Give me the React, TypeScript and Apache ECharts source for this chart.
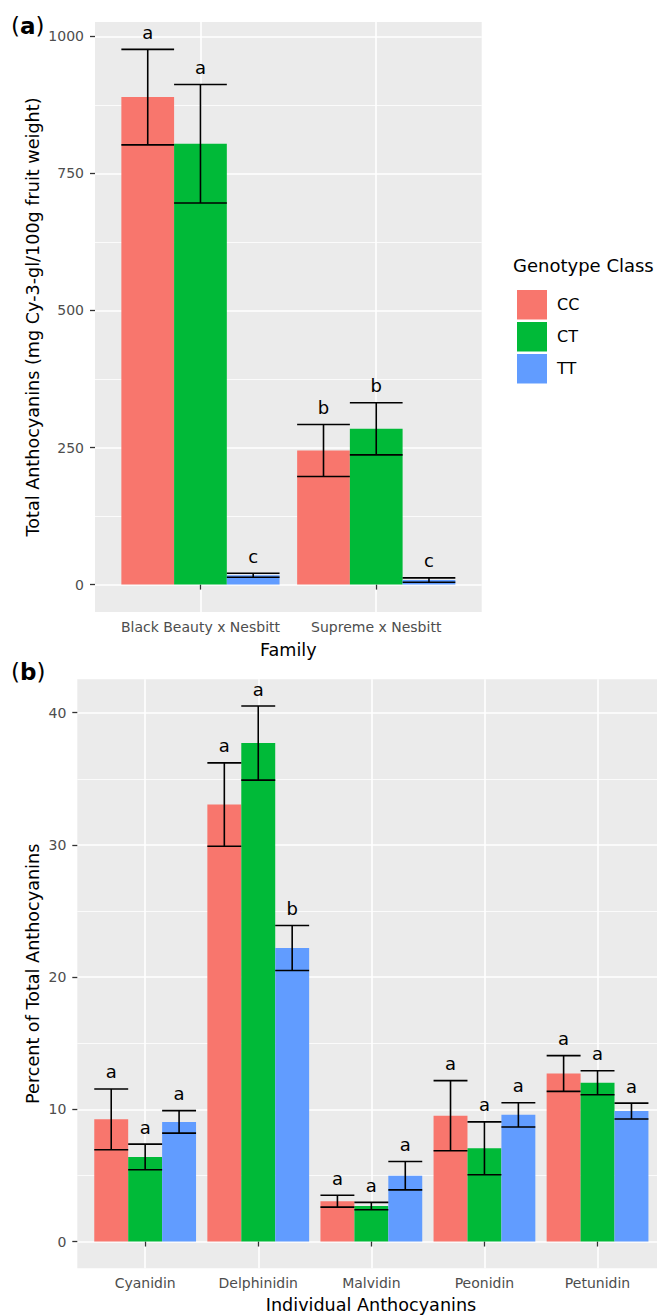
import React, { useEffect, useRef } from "react";
import * as echarts from "echarts";

const FONT = "DejaVu Sans";
const genotypes = ["CC", "CT", "TT"];
const genotypeColors = ["#F8766D", "#00BA38", "#619CFF"];

// Panel (a): total anthocyanins by family
const familyCats = ["Black Beauty x Nesbitt", "Supreme x Nesbitt"];
const totalCC = [889, 244.5];
const totalCT = [804, 284];
const totalTT = [17, 8.2];
const totalErrCC = [87, 47.5];
const totalErrCT = [108, 47.5];
const totalErrTT = [3.7, 4];
const totalLetCC = ["a", "b"];
const totalLetCT = ["a", "b"];
const totalLetTT = ["c", "c"];
const totalTicks = [0, 250, 500, 750, 1000];
const totalMinorTicks = [125, 375, 625, 875];

// Panel (b): percent of total anthocyanins
const anthoCats = ["Cyanidin", "Delphinidin", "Malvidin", "Peonidin", "Petunidin"];
const pctCC = [9.24, 33.05, 3.05, 9.52, 12.71];
const pctCT = [6.4, 37.7, 2.68, 7.05, 12.01];
const pctTT = [9.05, 22.2, 4.98, 9.58, 9.87];
const pctErrCC = [2.3, 3.15, 0.45, 2.65, 1.35];
const pctErrCT = [0.97, 2.8, 0.28, 2.0, 0.91];
const pctErrTT = [0.85, 1.7, 1.07, 0.92, 0.6];
const pctLetCC = ["a", "a", "a", "a", "a"];
const pctLetCT = ["a", "a", "a", "a", "a"];
const pctLetTT = ["a", "b", "a", "a", "a"];
const pctTicks = [0, 10, 20, 30, 40];
const pctMinorTicks = [5, 15, 25, 35];

const TICK_COLOR = "#333333";
const LABEL_COLOR = "#4D4D4D";

function makePanelSeries(
  panel: number,
  means: number[][],
  errs: number[][],
  letters: string[][]
) {
  const out: any[] = [];
  means.forEach((m, k) => {
    out.push({
      type: "bar",
      name: genotypes[k],
      xAxisIndex: panel,
      yAxisIndex: panel * 2,
      barGap: "0%",
      barCategoryGap: "10%",
      itemStyle: { color: genotypeColors[k] },
      data: m.map((v, i) => [i + 1, v]),
      z: 2,
    });
  });
  means.forEach((m, k) => {
    const off = (k - 1) * 0.3;
    const lets = letters[k];
    out.push({
      type: "custom",
      name: "err" + genotypes[k] + panel,
      xAxisIndex: panel,
      yAxisIndex: panel * 2,
      encode: { x: 0, y: [1, 2] },
      clip: false,
      z: 5,
      data: m.map((v, i) => [i + 1, v - errs[k][i], v + errs[k][i]]),
      renderItem: (params: any, api: any) => {
        const x = api.value(0) + off;
        const lo = api.value(1);
        const hi = api.value(2);
        const top = api.coord([x, hi]);
        const bot = api.coord([x, lo]);
        const half = api.size([0.15, 0])[0];
        const ls = { stroke: "#000", lineWidth: 1.6 };
        return {
          type: "group",
          children: [
            { type: "line", shape: { x1: top[0], y1: top[1], x2: bot[0], y2: bot[1] }, style: ls },
            { type: "line", shape: { x1: top[0] - half, y1: top[1], x2: top[0] + half, y2: top[1] }, style: ls },
            { type: "line", shape: { x1: bot[0] - half, y1: bot[1], x2: bot[0] + half, y2: bot[1] }, style: ls },
            {
              type: "text",
              x: top[0],
              y: top[1] - 17,
              style: {
                text: lets[params.dataIndex],
                fontSize: 18,
                fontFamily: FONT,
                fill: "#000",
                align: "center",
                verticalAlign: "middle",
                textAlign: "center",
                textVerticalAlign: "middle",
              },
            },
          ],
        };
      },
    });
  });
  return out;
}

function xAxisFor(gridIndex: number, cats: string[]) {
  const vals = cats.map((_, i) => i + 1);
  return {
    type: "value",
    gridIndex,
    min: 0.4,
    max: cats.length + 0.6,
    axisLine: { show: false },
    axisTick: { show: true, customValues: vals, length: 5, lineStyle: { color: TICK_COLOR, width: 1.3 } },
    axisLabel: {
      show: true,
      customValues: vals,
      formatter: (v: number) => cats[Math.round(v) - 1] ?? "",
      fontSize: 14,
      fontFamily: FONT,
      color: LABEL_COLOR,
      margin: 8,
    },
    splitLine: { show: true, lineStyle: { color: "#FFFFFF", width: 1.6 } },
  };
}

function yAxesFor(gridIndex: number, min: number, max: number, major: number[], minor: number[]) {
  return [
    {
      type: "value",
      gridIndex,
      min,
      max,
      position: "left",
      axisLine: { show: false },
      axisTick: { show: true, customValues: major, length: 5, lineStyle: { color: TICK_COLOR, width: 1.3 } },
      axisLabel: {
        show: true,
        customValues: major,
        formatter: (v: number) => String(v),
        fontSize: 14,
        fontFamily: FONT,
        color: LABEL_COLOR,
        margin: 11,
      },
      splitLine: { show: true, lineStyle: { color: "#FFFFFF", width: 1.6 } },
    },
    {
      type: "value",
      gridIndex,
      min,
      max,
      position: "right",
      axisLine: { show: false },
      axisTick: { show: false, customValues: minor },
      axisLabel: { show: false, customValues: minor },
      splitLine: { show: true, lineStyle: { color: "#FFFFFF", width: 0.8 } },
    },
  ];
}

export default function App() {
  const ref = useRef<HTMLDivElement>(null);
  useEffect(() => {
    if (!ref.current) return;
    const chart = echarts.init(ref.current, undefined, { renderer: "svg" });
    const titleStyle = { fontSize: 17.6, fontFamily: FONT, fill: "#000" };
    const panelRich = {
      p: { fontSize: 23, fontFamily: FONT, fill: "#000" },
      b: { fontSize: 23, fontFamily: FONT, fontWeight: "bold", fill: "#000" },
    };
    const option: any = {
      animation: false,
      backgroundColor: "#FFFFFF",
      grid: [
        {
          left: 95,
          top: 22,
          width: 386.7,
          height: 590,
          show: true,
          backgroundColor: "#EBEBEB",
          borderWidth: 0,
          containLabel: false,
          outerBoundsMode: "none",
        },
        {
          left: 77.3,
          top: 679.3,
          width: 588.1,
          height: 589,
          show: true,
          backgroundColor: "#EBEBEB",
          borderWidth: 0,
          containLabel: false,
          outerBoundsMode: "none",
        },
      ],
      xAxis: [xAxisFor(0, familyCats), xAxisFor(1, anthoCats)],
      yAxis: [
        ...yAxesFor(0, -50, 1026, totalTicks, totalMinorTicks),
        ...yAxesFor(1, -2.025, 42.525, pctTicks, pctMinorTicks),
      ],
      legend: {
        data: genotypes,
        orient: "vertical",
        left: 512,
        top: 285,
        itemWidth: 30,
        itemHeight: 29.5,
        itemGap: 2.5,
        icon: "rect",
        selectedMode: false,
        textStyle: { fontSize: 16, fontFamily: FONT, color: "#000", padding: [0, 0, 0, 5] },
      },
      series: [
        ...makePanelSeries(
          0,
          [totalCC, totalCT, totalTT],
          [totalErrCC, totalErrCT, totalErrTT],
          [totalLetCC, totalLetCT, totalLetTT]
        ),
        ...makePanelSeries(
          1,
          [pctCC, pctCT, pctTT],
          [pctErrCC, pctErrCT, pctErrTT],
          [pctLetCC, pctLetCT, pctLetTT]
        ),
      ],
      graphic: {
        elements: [
          {
            type: "text",
            x: 11,
            y: 26,
            style: {
              text: "{p|(}{b|a}{p|)}",
              rich: panelRich,
              verticalAlign: "middle",
              textVerticalAlign: "middle",
            },
          },
          {
            type: "text",
            x: 11,
            y: 672,
            style: {
              text: "{p|(}{b|b}{p|)}",
              rich: panelRich,
              verticalAlign: "middle",
              textVerticalAlign: "middle",
            },
          },
          {
            type: "text",
            x: 33.4,
            y: 317,
            rotation: Math.PI / 2,
            style: {
              ...titleStyle,
              text: "Total Anthocyanins (mg Cy-3-gl/100g fruit weight)",
              align: "center",
              verticalAlign: "middle",
              textAlign: "center",
              textVerticalAlign: "middle",
            },
          },
          {
            type: "text",
            x: 33.4,
            y: 973.8,
            rotation: Math.PI / 2,
            style: {
              ...titleStyle,
              text: "Percent of Total Anthocyanins",
              align: "center",
              verticalAlign: "middle",
              textAlign: "center",
              textVerticalAlign: "middle",
            },
          },
          {
            type: "text",
            x: 288.3,
            y: 650,
            style: {
              ...titleStyle,
              text: "Family",
              align: "center",
              verticalAlign: "middle",
              textAlign: "center",
              textVerticalAlign: "middle",
            },
          },
          {
            type: "text",
            x: 371,
            y: 1304.7,
            style: {
              ...titleStyle,
              text: "Individual Anthocyanins",
              align: "center",
              verticalAlign: "middle",
              textAlign: "center",
              textVerticalAlign: "middle",
            },
          },
          {
            type: "text",
            x: 513,
            y: 265,
            style: {
              ...titleStyle,
              fontSize: 18,
              text: "Genotype Class",
              align: "left",
              verticalAlign: "middle",
              textAlign: "left",
              textVerticalAlign: "middle",
            },
          },
        ],
      },
    };
    chart.setOption(option);
    return () => chart.dispose();
  }, []);
  return (
    <div
      ref={ref}
      style={{ position: "absolute", left: 0, top: 0, width: 657, height: 1315 }}
    />
  );
}
